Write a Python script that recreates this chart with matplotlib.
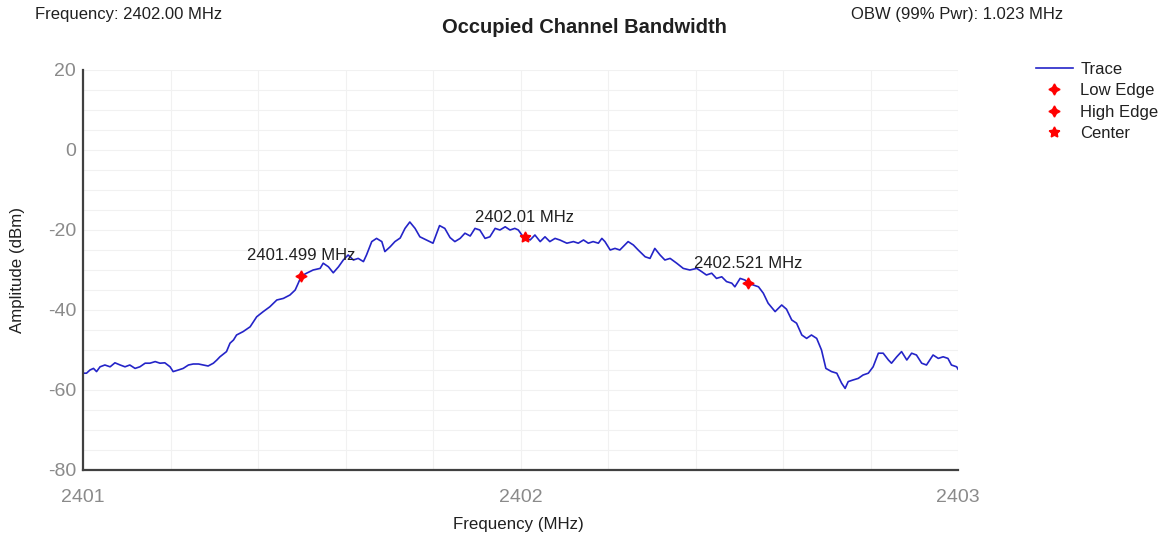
import matplotlib
matplotlib.use("Agg")
import matplotlib.pyplot as plt
from matplotlib.ticker import MultipleLocator

plt.rcParams['font.family'] = ['Liberation Sans', 'DejaVu Sans']

# ---- data ----
freq_mhz = [
    2401.001, 2401.008, 2401.016, 2401.024, 2401.031, 2401.039, 2401.050, 2401.062,
    2401.073, 2401.085, 2401.096, 2401.107, 2401.119, 2401.130, 2401.142, 2401.153,
    2401.165, 2401.176, 2401.187, 2401.199, 2401.206, 2401.218, 2401.229, 2401.241,
    2401.252, 2401.264, 2401.275, 2401.286, 2401.298, 2401.306, 2401.313, 2401.321,
    2401.328, 2401.336, 2401.344, 2401.351, 2401.366, 2401.382, 2401.397, 2401.412,
    2401.427, 2401.443, 2401.458, 2401.473, 2401.485, 2401.492, 2401.499, 2401.511,
    2401.526, 2401.542, 2401.549, 2401.561, 2401.572, 2401.584, 2401.595, 2401.606,
    2401.618, 2401.629, 2401.641, 2401.648, 2401.660, 2401.671, 2401.683, 2401.690,
    2401.702, 2401.713, 2401.725, 2401.736, 2401.747, 2401.759, 2401.770, 2401.785,
    2401.800, 2401.815, 2401.827, 2401.839, 2401.850, 2401.862, 2401.873, 2401.885,
    2401.896, 2401.907, 2401.919, 2401.930, 2401.942, 2401.953, 2401.965, 2401.976,
    2401.987, 2401.995, 2402.006, 2402.010, 2402.022, 2402.033, 2402.045, 2402.056,
    2402.067, 2402.079, 2402.090, 2402.106, 2402.121, 2402.132, 2402.144, 2402.155,
    2402.166, 2402.178, 2402.186, 2402.193, 2402.205, 2402.216, 2402.227, 2402.246,
    2402.258, 2402.269, 2402.285, 2402.296, 2402.307, 2402.319, 2402.330, 2402.342,
    2402.357, 2402.372, 2402.387, 2402.403, 2402.414, 2402.425, 2402.437, 2402.448,
    2402.460, 2402.471, 2402.483, 2402.490, 2402.502, 2402.513, 2402.521, 2402.532,
    2402.544, 2402.555, 2402.566, 2402.582, 2402.597, 2402.608, 2402.620, 2402.631,
    2402.643, 2402.654, 2402.665, 2402.677, 2402.688, 2402.698, 2402.711, 2402.723,
    2402.734, 2402.742, 2402.749, 2402.760, 2402.772, 2402.783, 2402.795, 2402.806,
    2402.818, 2402.829, 2402.841, 2402.848, 2402.860, 2402.871, 2402.883, 2402.894,
    2402.905, 2402.917, 2402.928, 2402.943, 2402.955, 2402.966, 2402.977, 2402.985,
    2402.997, 2403.000,
]
amplitude_dbm = [
    -55.8, -55.8, -55.0, -54.6, -55.4, -54.2, -53.75, -54.2,
    -53.2, -53.75, -54.2, -53.75, -54.6, -54.2, -53.3, -53.3,
    -52.9, -53.3, -53.2, -54.2, -55.4, -55.0, -54.6, -53.75,
    -53.5, -53.5, -53.75, -54.0, -53.3, -52.5, -51.7, -51.0,
    -50.4, -48.3, -47.5, -46.25, -45.4, -44.2, -41.7, -40.4,
    -39.2, -37.5, -37.1, -36.25, -35.0, -33.3, -31.5, -30.8,
    -30.0, -29.6, -28.3, -29.2, -30.7, -29.2, -27.5, -26.25,
    -27.5, -27.1, -27.9, -26.25, -22.9, -22.1, -22.9, -25.4,
    -24.2, -22.9, -22.0, -19.6, -18.0, -19.6, -21.7, -22.5,
    -23.3, -18.9, -19.6, -21.9, -22.9, -22.1, -20.8, -21.5,
    -19.6, -20.0, -22.1, -21.7, -19.6, -20.0, -19.2, -20.0,
    -19.6, -20.0, -21.7, -21.75, -22.5, -21.25, -22.9, -21.7,
    -22.9, -22.1, -22.5, -23.3, -22.9, -23.3, -22.5, -23.3,
    -22.9, -23.3, -22.1, -22.9, -25.0, -24.6, -25.0, -22.9,
    -23.75, -25.0, -26.7, -27.1, -24.6, -26.25, -27.5, -27.1,
    -28.3, -29.6, -30.0, -29.6, -30.4, -31.25, -30.8, -32.1,
    -31.7, -32.9, -33.3, -34.2, -32.1, -32.5, -33.25, -33.75,
    -34.2, -35.8, -38.3, -40.4, -38.75, -39.8, -42.5, -43.3,
    -46.25, -47.1, -46.25, -47.1, -50.0, -54.6, -55.4, -55.8,
    -58.3, -59.6, -57.9, -57.5, -57.1, -56.25, -55.8, -54.2,
    -50.8, -50.8, -52.5, -53.3, -51.7, -50.4, -52.5, -50.8,
    -51.25, -53.3, -53.75, -51.25, -52.1, -51.7, -52.1, -53.75,
    -54.2, -54.8,
]

marker_names = ["Low Edge", "High Edge", "Center"]
marker_freq = [2401.499, 2402.521, 2402.01]
marker_amp = [-31.5, -33.25, -21.75]
marker_labels = ["2401.499 MHz", "2402.521 MHz", "2402.01 MHz"]

x_ticks = [2401, 2402, 2403]
y_ticks = [-80, -60, -40, -20, 0, 20]

title = "Occupied Channel Bandwidth"
info_left = "Frequency: 2402.00 MHz"
info_right = "OBW (99% Pwr): 1.023 MHz"

# ---- figure ----
W, H = 1167, 538
fig = plt.figure(figsize=(W / 100, H / 100), dpi=100)
ax = fig.add_axes([83 / W, 1 - 470 / H, (958 - 83) / W, (470 - 70) / H])

ax.set_xlim(2401, 2403)
ax.set_ylim(-80, 20)

# grid
ax.xaxis.set_minor_locator(MultipleLocator(0.2))
ax.yaxis.set_minor_locator(MultipleLocator(5))
ax.grid(True, which='both', color='#f1f1f1', linewidth=0.8)
ax.set_axisbelow(True)

trace_line, = ax.plot(freq_mhz, amplitude_dbm, color='#2424c8', linewidth=1.2, label='Trace')

mk_styles = [dict(marker=(4, 1, 0), markersize=8),
             dict(marker=(4, 1, 0), markersize=8),
             dict(marker=(5, 1, 0), markersize=8)]
handles = [trace_line]
for name, fx, ay, st in zip(marker_names, marker_freq, marker_amp, mk_styles):
    h, = ax.plot([fx], [ay], linestyle='none', color='#ff0000', label=name, zorder=5, **st)
    handles.append(h)

for fx, ay, lab in zip(marker_freq, marker_amp, marker_labels):
    ax.annotate(lab, xy=(fx, ay), xytext=(0, 9), textcoords='offset points',
                ha='center', va='bottom', fontsize=12, color='#202020')

ax.set_xticks(x_ticks)
ax.set_yticks(y_ticks)
ax.set_xticklabels([str(v) for v in x_ticks])
ax.set_yticklabels([str(v) for v in y_ticks])
ax.tick_params(axis='both', which='both', length=0, labelsize=14, labelcolor='#8a8a8a')
ax.tick_params(axis='x', pad=14)
ax.tick_params(axis='y', pad=5)

for s in ['top', 'right']:
    ax.spines[s].set_visible(False)
for s in ['left', 'bottom']:
    ax.spines[s].set_color('#404040')
    ax.spines[s].set_linewidth(1.6)

fig.text(518 / W, 1 - 524 / H, "Frequency (MHz)", ha='center', va='center', fontsize=12.2, color='#202020')
fig.text(18 / W, 1 - 270 / H, "Amplitude (dBm)", ha='center', va='center', rotation=90,
         fontsize=12.2, color='#202020')

fig.text(584 / W, 1 - 28 / H, title, ha='center', va='center', fontsize=14.5, fontweight='bold', color='#202020')
fig.text(35 / W, 1 - 15 / H, info_left, ha='left', va='center', fontsize=12, color='#202020')
fig.text(1063 / W, 1 - 15 / H, info_right, ha='right', va='center', fontsize=12, color='#202020')

fig.legend(handles=handles, labels=['Trace'] + marker_names, loc='upper left',
           bbox_to_anchor=(1036 / W, 1 - 62 / H), frameon=False, fontsize=12,
           handlelength=2.2, handletextpad=0.45, labelspacing=0.38, borderpad=0, borderaxespad=0,
           labelcolor='#202020')

fig.savefig("out.png", dpi=100, facecolor='white')
